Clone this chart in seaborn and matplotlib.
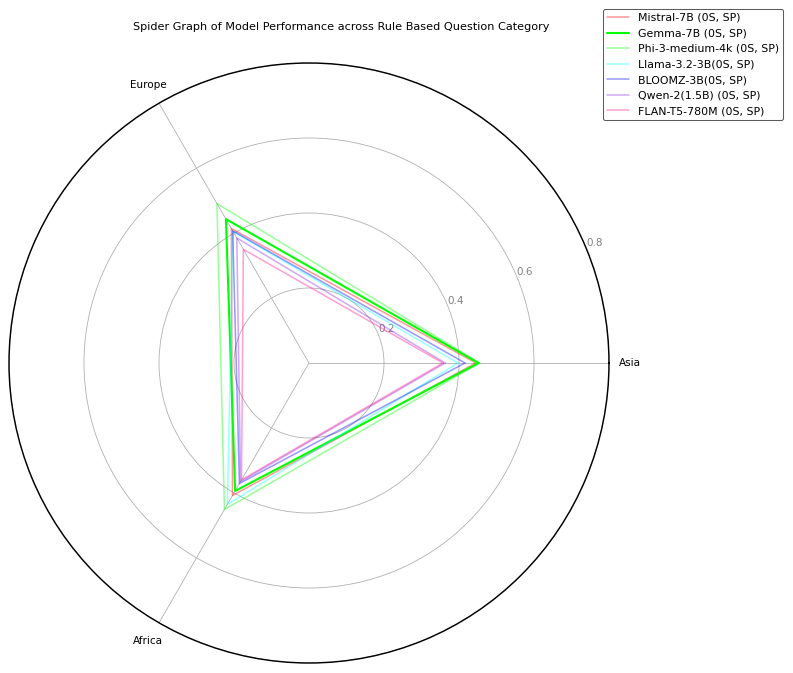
import numpy as np
import matplotlib
matplotlib.use("Agg")
import matplotlib.pyplot as plt
import seaborn as sns

# categories and scores
categories = ["Asia", "Europe", "Africa"]
models = ["Mistral-7B (0S, SP)", "Gemma-7B (0S, SP)", "Phi-3-medium-4k (0S, SP)",
          "Llama-3.2-3B(0S, SP)", "BLOOMZ-3B(0S, SP)", "Qwen-2(1.5B) (0S, SP)",
          "FLAN-T5-780M (0S, SP)"]
mistral = [0.445, 0.414, 0.408]
gemma = [0.452, 0.443, 0.394]
phi3 = [0.455, 0.491, 0.451]
llama = [0.397, 0.405, 0.435]
bloomz = [0.416, 0.407, 0.371]
qwen = [0.363, 0.385, 0.365]
flan = [0.357, 0.350, 0.360]
colors = ["red", "lime", "lime", "cyan", "blue", "blueviolet", "deeppink"]

scores = [mistral, gemma, phi3, llama, bloomz, qwen, flan]

sns.set_style("white")
plt.rcParams.update({"text.color": "black", "xtick.color": "black",
                     "axes.labelcolor": "black"})

N = len(categories)
angles = [n / float(N) * 2 * np.pi for n in range(N)]
angles += angles[:1]

fig = plt.figure(figsize=(793 / 75, 673 / 75), dpi=75)
ax = fig.add_axes([9 / 793, 10 / 673, 600 / 793, 600 / 673], polar=True)

for name, vals, col in zip(models, scores, colors):
    vals = vals + vals[:1]
    if name.startswith("Gemma"):
        sns.lineplot(x=angles, y=vals, ax=ax, sort=False, estimator=None,
                     color=col, linewidth=2, label=name)
    else:
        sns.lineplot(x=angles, y=vals, ax=ax, sort=False, estimator=None,
                     color=col, linewidth=1.5, alpha=0.4, label=name)

ax.set_xticks(angles[:-1])
ax.set_xticklabels(categories, fontsize=10, color="black")
ax.tick_params(axis="x", pad=10)
ax.set_ylim(0, 0.8)
ax.set_yticks([0.2, 0.4, 0.6, 0.8])
ax.set_yticklabels(["0.2", "0.4", "0.6", "0.8"], color="grey", fontsize=10)
ax.set_rlabel_position(22.5)
ax.grid(True, color="#b0b0b0", linewidth=0.8)
ax.spines["polar"].set_color("black")
ax.spines["polar"].set_linewidth(1.4)
ax.set_xlabel("")
ax.set_ylabel("")

fig.text(341 / 793, 1 - 27 / 673, "Spider Graph of Model Performance across Rule Based Question Category",
         ha="center", va="center", fontsize=10.75, color="black")
leg = ax.legend(loc="upper right", bbox_to_anchor=(1.3, 1.1), fontsize=10.6, frameon=True)
leg.get_frame().set_edgecolor("0.2")
for t in leg.get_texts():
    t.set_color("black")

plt.savefig("out.png", dpi=75)
